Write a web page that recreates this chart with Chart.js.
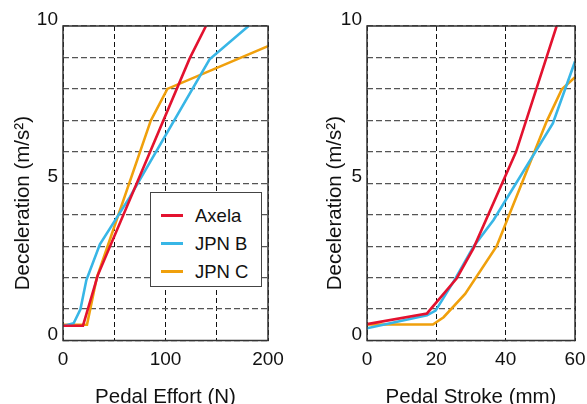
<!DOCTYPE html>
<html>
<head>
<meta charset="utf-8">
<script src="https://cdn.jsdelivr.net/npm/chart.js@4.4.1/dist/chart.umd.min.js"></script>
<style>
  html, body { margin: 0; padding: 0; width: 587px; height: 404px; overflow: hidden; background: #fff; }
  .panel { position: absolute; top: 0; height: 430px; }
  #left { left: 0; width: 300px; }
  #right { left: 290px; width: 320px; }
  #legend {
    position: absolute; left: 150px; top: 192px; width: 110px; height: 93px;
    border: 1.5px solid #444; background: #fff;
    font-family: "Liberation Sans", Arial, sans-serif; font-size: 18.5px; color: #111;
  }
  #legend .row { position: absolute; left: 0; height: 24px; line-height: 24px; }
  #legend .swatch { position: absolute; left: 10px; top: 10px; width: 22px; height: 3px; }
  #legend .label { position: absolute; left: 44px; top: 0; white-space: nowrap; }
</style>
</head>
<body>
<div class="panel" id="left"><canvas id="effortChart"></canvas></div>
<div class="panel" id="right"><canvas id="strokeChart"></canvas></div>
<div id="legend"></div>
<script>
// series names / colours
const seriesNames = ["Axela", "JPN B", "JPN C"];
const seriesColors = ["#e3122f", "#38b6e6", "#f0a00c"];

// pedal effort (N) vs deceleration (m/s2)
const effortAxela = [[0, 0.47], [19.5, 0.47], [34, 2.08], [123.6, 8.97], [139.5, 10]];
const effortJpnB = [[0, 0.46], [10.4, 0.55], [17, 0.99], [22.8, 1.92], [36, 3.06], [65, 4.55], [143, 8.94], [181, 10]];
const effortJpnC = [[0, 0.5], [23.4, 0.5], [33, 2.0], [85.6, 6.99], [101.8, 8.0], [200, 9.36]];

// pedal stroke (mm) vs deceleration (m/s2)
const strokeAxela = [[0, 0.52], [17.3, 0.86], [25.9, 1.98], [30.7, 2.93], [43, 6.0], [54.7, 10]];
const strokeJpnB = [[0, 0.39], [17.3, 0.8], [19.8, 0.95], [25.4, 1.95], [30.7, 2.98], [36.5, 3.83], [53.6, 6.9], [60, 8.87]];
const strokeJpnC = [[0, 0.51], [19, 0.51], [22.1, 0.74], [28.3, 1.48], [37.4, 3.0], [51.8, 6.96], [56.2, 7.99], [60, 8.37]];

// axis ticks
const yTickLabels = [0, 5, 10];
const effortTickLabels = [0, 100, 200];
const strokeTickLabels = [0, 20, 40, 60];

const FONT = "'Liberation Sans', Arial, sans-serif";
// trailing no-break spaces push the rotated title down a little, like the original
const Y_TITLE = "Deceleration (m/s²)" + "\u00a0".repeat(7);

const frame = {
  id: "frame",
  afterDraw(chart) {
    const { ctx, chartArea: a } = chart;
    ctx.save();
    ctx.strokeStyle = "#333";
    ctx.lineWidth = 1.5;
    ctx.strokeRect(a.left, a.top, a.right - a.left, a.bottom - a.top);
    ctx.restore();
  },
};

function toPoints(pairs) {
  return pairs.map((p) => ({ x: p[0], y: p[1] }));
}

function makeChart(id, series, xMax, xStep, xLabels, xTitle, yWidth, yTitlePad, rightPad) {
  const ctx = document.getElementById(id).getContext("2d");
  return new Chart(ctx, {
    type: "line",
    data: {
      datasets: series.map((s, i) => ({
        label: seriesNames[i],
        data: toPoints(s),
        borderColor: seriesColors[i],
        borderWidth: 2.6,
        pointRadius: 0,
        tension: 0,
        fill: false,
      })),
    },
    options: {
      responsive: true,
      maintainAspectRatio: false,
      animation: false,
      layout: { padding: { top: 26, right: rightPad, left: 0, bottom: 0 } },
      plugins: { legend: { display: false }, tooltip: { enabled: false } },
      scales: {
        x: {
          type: "linear",
          min: 0,
          max: xMax,
          grid: { color: "#111", lineWidth: 1, drawTicks: false },
          border: { display: false, dash: [5, 3] },
          ticks: {
            stepSize: xStep,
            autoSkip: false,
            maxRotation: 0,
            padding: 8,
            color: "#111",
            font: { family: FONT, size: 19 },
            callback: (v) => (xLabels.includes(v) ? String(v) : ""),
          },
          title: {
            display: true,
            text: xTitle,
            color: "#111",
            font: { family: FONT, size: 20.5 },
            padding: { top: 0, bottom: 20 },
          },
          afterFit: (scale) => { scale.height = 89.5; },
        },
        y: {
          min: 0,
          max: 10,
          grid: { color: "#555", lineWidth: 1.2, drawTicks: false },
          border: { display: false, dash: [6, 3] },
          ticks: {
            stepSize: 1,
            autoSkip: false,
            padding: 5,
            labelOffset: -6,
            color: "#111",
            font: { family: FONT, size: 19 },
            callback: (v) => (yTickLabels.includes(v) ? String(v) : ""),
          },
          title: {
            display: true,
            text: Y_TITLE,
            color: "#111",
            font: { family: FONT, size: 20.5 },
            padding: { top: yTitlePad, bottom: 0 },
          },
          afterFit: (scale) => { scale.width = yWidth; },
        },
      },
    },
    plugins: [frame],
  });
}

makeChart("effortChart", [effortAxela, effortJpnB, effortJpnC], 200, 50, effortTickLabels, "Pedal Effort (N)", 63, 11, 32);
makeChart("strokeChart", [strokeAxela, strokeJpnB, strokeJpnC], 60, 20, strokeTickLabels, "Pedal Stroke (mm)", 77, 33, 35);

// legend inside the left panel
const legend = document.getElementById("legend");
seriesNames.forEach((name, i) => {
  const row = document.createElement("div");
  row.className = "row";
  row.style.top = (11 + i * 28) + "px";
  row.innerHTML = '<span class="swatch" style="background:' + seriesColors[i] + '"></span><span class="label">' + name + "</span>";
  legend.appendChild(row);
});
</script>
</body>
</html>
